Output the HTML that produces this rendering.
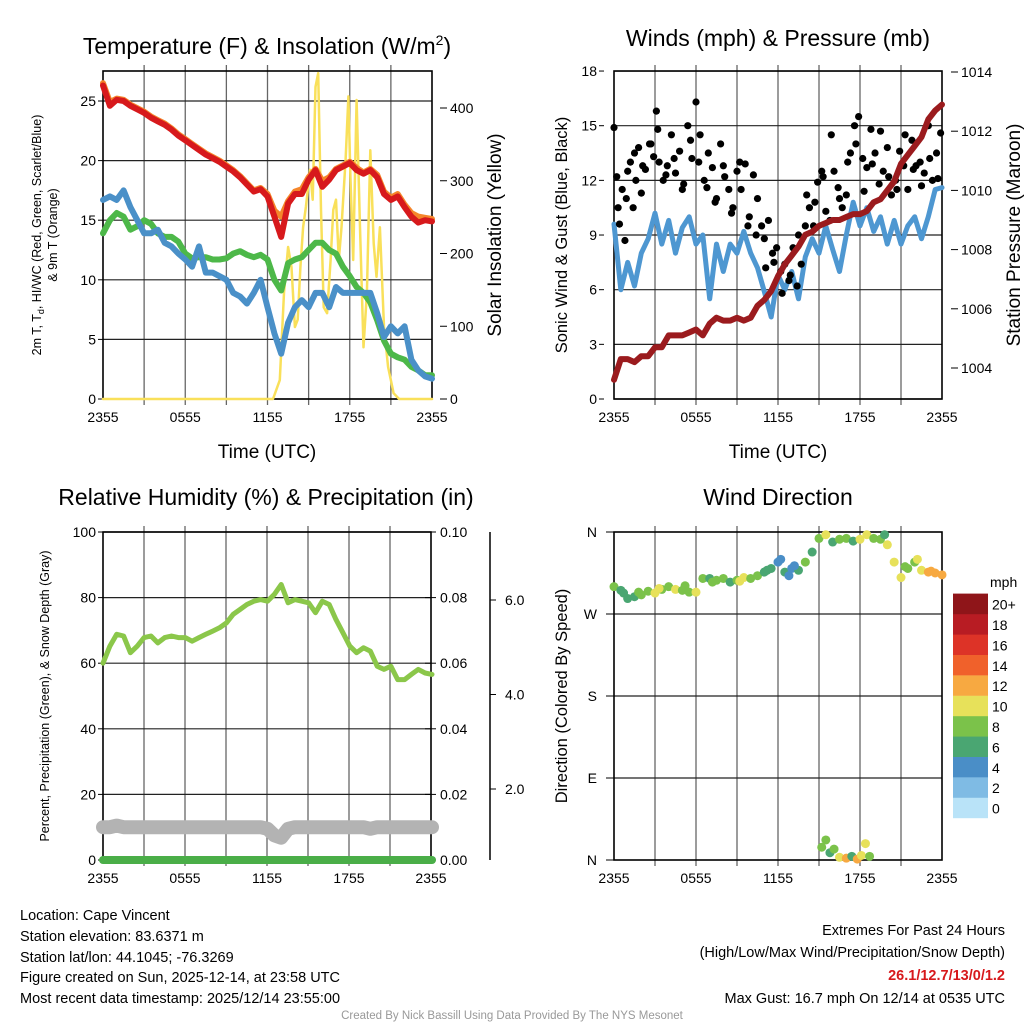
<!DOCTYPE html>
<html><head><meta charset="utf-8"><style>
body{margin:0;background:#fff;}
svg{display:block;font-family:"Liberation Sans",Arial,sans-serif;}
</style></head><body>
<svg id="s" width="1024" height="1024" viewBox="0 0 1024 1024" xmlns="http://www.w3.org/2000/svg">
<rect width="1024" height="1024" fill="#fff"/>
<g id="g"></g>
<!-- titles -->
<text x="267" y="54" font-size="23" text-anchor="middle">Temperature (F) &amp; Insolation (W/m<tspan dy="-9" font-size="14">2</tspan><tspan dy="9">)</tspan></text>
<text x="778" y="46" font-size="23" text-anchor="middle">Winds (mph) &amp; Pressure (mb)</text>
<text x="266" y="505" font-size="23" text-anchor="middle">Relative Humidity (%) &amp; Precipitation (in)</text>
<text x="778" y="505" font-size="23" text-anchor="middle">Wind Direction</text>
<text x="267" y="458" font-size="19" text-anchor="middle">Time (UTC)</text>
<text x="778" y="458" font-size="19" text-anchor="middle">Time (UTC)</text>
<text transform="translate(41,235) rotate(-90)" font-size="12.5" text-anchor="middle">2m T, T<tspan dy="3" font-size="9">d</tspan><tspan dy="-3">, HI/WC (Red, Green, Scarlet/Blue)</tspan></text>
<text transform="translate(57,235) rotate(-90)" font-size="12.5" text-anchor="middle">&amp; 9m T (Orange)</text>
<text transform="translate(501,235) rotate(-90)" font-size="19" text-anchor="middle">Solar Insolation (Yellow)</text>
<text transform="translate(567,235) rotate(-90)" font-size="16.5" text-anchor="middle">Sonic Wind &amp; Gust (Blue, Black)</text>
<text transform="translate(1020,235) rotate(-90)" font-size="19" text-anchor="middle">Station Pressure (Maroon)</text>
<text transform="translate(49,696) rotate(-90)" font-size="12.5" text-anchor="middle">Percent, Precipitation (Green), &amp; Snow Depth (Gray)</text>
<text transform="translate(567,696) rotate(-90)" font-size="16.5" text-anchor="middle">Direction (Colored By Speed)</text>
<!-- footer -->
<g font-size="14.5">
<text x="20" y="920">Location: Cape Vincent</text>
<text x="20" y="941">Station elevation: 83.6371 m</text>
<text x="20" y="962">Station lat/lon: 44.1045; -76.3269</text>
<text x="20" y="982">Figure created on Sun, 2025-12-14, at 23:58 UTC</text>
<text x="20" y="1003">Most recent data timestamp: 2025/12/14 23:55:00</text>
</g>
<g font-size="14.5" text-anchor="end">
<text x="1005" y="935">Extremes For Past 24 Hours</text>
<text x="1005" y="957">(High/Low/Max Wind/Precipitation/Snow Depth)</text>
<text x="1005" y="980" fill="#d7191c" font-weight="bold">26.1/12.7/13/0/1.2</text>
<text x="1005" y="1003">Max Gust: 16.7 mph On 12/14 at 0535 UTC</text>
</g>
<text x="512" y="1019" font-size="11.5" fill="#999" text-anchor="middle">Created By Nick Bassill Using Data Provided By The NYS Mesonet</text>
</svg>
<script>
// ---- data ----
const hours = [0,0.5,1,1.5,2,2.5,3,3.5,4,4.5,5,5.5,6,6.5,7,7.5,8,8.5,9,9.5,10,10.5,11,11.5,12,12.5,13,13.5,14,14.5,15,15.5,16,16.5,17,17.5,18,18.5,19,19.5,20,20.5,21,21.5,22,22.5,23,23.5,24];
const xTickLabels = ["2355","0555","1155","1755","2355"];
const tempRed = [26.3,24.6,25.1,25.0,24.6,24.3,24.0,23.6,23.3,23.0,22.6,22.1,21.7,21.3,20.9,20.5,20.2,19.9,19.5,19.1,18.6,18.0,17.4,17.6,17.0,15.3,13.6,16.4,17.2,17.2,18.4,19.2,17.8,18.4,19.2,19.5,19.8,19.2,18.9,19.2,18.6,17.2,16.7,17.0,16.1,15.3,14.8,15.0,14.9];
const tempOrange = [26.5,24.9,25.2,25.1,24.7,24.4,24.1,23.7,23.4,23.1,22.7,22.2,21.8,21.4,21.0,20.6,20.3,20.0,19.6,19.2,18.7,18.1,17.5,17.7,17.2,15.8,15.3,16.6,17.4,17.6,18.6,19.3,18.3,18.6,19.3,19.6,19.9,19.4,19.0,19.3,18.8,17.4,16.9,17.2,16.3,15.6,15.3,15.2,15.1];
const dewGreen = [13.9,15.0,15.6,15.3,14.2,14.5,15.0,14.7,13.9,13.6,13.6,13.2,12.2,11.8,11.9,11.9,11.7,11.7,11.8,12.2,12.4,12.1,11.9,12.1,11.7,10.0,9.1,11.4,11.7,11.9,12.5,13.1,13.1,12.5,12.2,11.1,10.3,9.4,8.9,8.1,6.6,4.9,3.8,3.5,3.3,2.7,2.4,2.0,2.0];
const chillBlue = [16.7,17.0,16.7,17.5,16.1,15.0,13.9,13.9,14.2,13.1,12.8,12.2,11.7,11.1,12.8,10.6,10.6,10.3,10.0,8.9,8.6,8.0,8.9,10.0,7.7,5.5,3.8,6.4,7.7,8.3,7.7,8.9,8.9,7.7,9.4,8.9,8.9,8.9,8.9,8.9,7.2,5.2,6.1,5.5,6.1,3.3,2.4,1.9,1.7];
const solarHours = [0,12.4,12.9,13.2,13.5,13.75,14.0,14.2,14.4,14.6,14.8,15.1,15.3,15.5,15.7,15.9,16.1,16.35,16.6,16.8,17.0,17.2,17.4,17.7,17.9,18.05,18.25,18.5,18.75,19.0,19.25,19.5,19.75,19.95,20.2,20.5,20.8,21.2,21.6,24];
const solarVals = [0,0,26,146,209,181,99,109,181,236,264,315,274,429,448,260,126,118,191,260,274,191,236,329,416,306,191,411,236,71,146,342,214,168,236,99,44,8,0,0];
const tempTicks = [0,5,10,15,20,25];
const solarTicks = [0,100,200,300,400];

const sonicWind = [9.6,6.0,7.5,6.2,8.0,8.8,10.2,8.5,9.8,8.0,9.4,10.0,8.5,9.0,5.5,8.5,7.0,8.5,8.0,9.2,8.0,7.2,5.9,4.5,6.8,6.0,7.0,5.5,7.8,8.8,8.0,9.5,8.2,7.0,9.0,10.8,9.5,10.5,9.2,10.0,8.5,9.8,8.5,9.5,10.0,8.8,10.0,11.5,11.6];
const gustHours = [0,0.2,0.4,0.6,0.8,1,1.2,1.4,1.6,1.8,2,2.3,2.6,2.9,3.1,3.3,3.6,3.9,4.2,4.5,4.8,5.1,5.4,5.7,6,6.3,6.6,6.9,7.2,7.5,7.8,8.1,8.4,8.7,9,9.3,9.6,9.9,10.2,10.5,10.8,11,11.3,11.6,11.9,12.2,12.5,12.8,13.1,13.4,13.7,14,14.3,14.6,14.9,15.2,15.5,15.8,16.1,16.4,16.7,17,17.3,17.6,17.9,18.2,18.5,18.8,19.1,19.4,19.7,20,20.3,20.6,20.9,21.2,21.5,21.8,22.1,22.4,22.7,23,23.3,23.6,23.9];
const gustVals = [14.9,12.2,9.6,11.5,8.7,12.5,13.0,10.5,12.0,13.8,11.3,12.6,14.0,13.3,15.8,13.0,12.0,12.8,14.5,12.4,13.6,11.8,15.0,13.2,16.3,14.5,12.0,13.5,12.7,11.0,14.0,12.2,11.5,10.5,12.5,11.5,12.9,10.0,12.3,11.0,9.5,8.8,9.8,8.0,8.3,7.0,7.4,6.5,8.3,6.2,7.4,9.5,10.5,9.5,11.9,12.5,10.3,9.8,12.5,11.6,10.5,11.2,13.5,15.0,15.5,13.2,12.7,14.8,13.5,11.8,12.5,13.8,11.2,12.0,13.6,12.8,11.5,14.2,12.8,13.0,12.4,15.0,12.0,13.5,14.6];
const gustHours2 = [0.3,0.9,1.5,2.1,2.7,3.2,3.8,4.4,5.0,5.6,6.2,6.8,7.4,8.0,8.6,9.2,9.8,10.4,11.1,11.7,12.3,12.9,13.5,14.1,14.7,15.3,15.9,16.5,17.1,17.7,18.3,18.9,19.5,20.1,20.7,21.3,21.9,22.5,23.1,23.7];
const gustVals2 = [10.5,11.0,13.5,12.8,14.0,14.8,12.3,13.2,11.5,14.2,13.0,11.6,10.8,12.8,10.2,13.0,9.5,9.0,7.2,7.5,5.8,6.8,9.0,11.2,10.8,12.2,14.5,11.0,13.0,14.0,11.4,12.9,14.7,12.2,11.5,14.5,12.6,11.7,13.2,12.1];
const pressure = [1003.6,1004.3,1004.3,1004.2,1004.4,1004.4,1004.7,1004.7,1005.1,1005.1,1005.1,1005.2,1005.3,1005.1,1005.5,1005.7,1005.6,1005.6,1005.7,1005.6,1005.7,1006.1,1006.3,1006.6,1007.1,1007.5,1007.8,1008.1,1008.5,1008.6,1008.8,1008.9,1009.0,1009.0,1009.1,1009.2,1009.2,1009.3,1009.6,1009.7,1010.0,1010.3,1010.9,1011.2,1011.5,1011.8,1012.4,1012.7,1012.9];
const windTicks = [0,3,6,9,12,15,18];
const pressTicks = [1004,1006,1008,1010,1012,1014];

const rh = [60,65.2,68.8,68.3,63.2,65.2,67.8,68.3,66.2,67.8,68.3,67.8,67.8,66.7,67.8,68.8,69.8,70.8,72.3,74.9,76.4,77.9,78.9,79.4,78.9,81,84,78.4,79.4,78.9,78.4,75.4,78.9,77.9,73.3,69.3,65.2,63.2,64.7,63.7,59.1,58.1,59.1,55,55,56.6,58.1,57,56.6];
const snowDepth = [10,10,10.5,10,10,10,10,10,10,10,10,10,10,10,10,10,10,10,10,10,10,10,10,10,9.5,7.5,6.8,9.5,10,10,10,10,10,10,10,10,10,10,10,9.5,10,10,10,10,10,10,10,10,10];
const precip = [0,0,0,0,0,0,0,0,0,0,0,0,0,0,0,0,0,0,0,0,0,0,0,0,0,0,0,0,0,0,0,0,0,0,0,0,0,0,0,0,0,0,0,0,0,0,0,0,0];
const rhTicks = [0,20,40,60,80,100];
const precipTicks = ["0.00","0.02","0.04","0.06","0.08","0.10"];
const snowTickLabels = ["2.0","4.0","6.0"];

const dirVals = [300,296,287,289,291,295,293,297,300,297,296,294,294,309,309,307,309,305,307,310,309,312,316,320,327,316,320,318,327,338,353,357,349,352,353,350,352,357,353,352,346,327,310,320,327,318,316,315,313];
const dirSpeeds = [9,7,6,7,8,9,10,8,9,10,9,8,10,8,7,9,8,7,8,10,8,8,7,6,5,6,5,6,8,6,8,10,7,9,8,7,10,11,9,8,10,10,11,8,9,10,12,13,12];
const dirHours2 = [15.2,15.5,15.8,16.1,16.5,17.0,17.4,17.8,18.1,18.4,18.7,0.7,1.8,3.3,5.2,7.2,9.2,11.2,12.2,12.8,13.2,19.8,21.3,22.2,23.2];
const dirVals2 = [14,22,8,12,3,2,4,1,5,18,4,293,294,298,301,305,306,318,330,312,323,357,322,330,317];
const dirSpeeds2 = [8,8,7,9,10,12,6,13,10,11,8,6,8,10,9,8,10,6,4,5,4,7,8,10,13];
const dirTickLabels = ["N","E","S","W","N"];
const speedBinLabels = ["0","2","4","6","8","10","12","14","16","18","20+"];
const speedBinColors = ["#b9e3f8","#7fbbe4","#4a8ec7","#4aa672","#7bc24a","#e7e15a","#f7a941","#f0612b","#dd3327","#b81c23","#8f1519"];

// ---- scales ----
const NS="http://www.w3.org/2000/svg";
const G=document.getElementById('g');
function el(t,a,p){const e=document.createElementNS(NS,t);for(const k in a)e.setAttribute(k,a[k]);(p||G).appendChild(e);return e;}
const xL=h=>103+h*329/24, xR=h=>614+h*328/24;
const yT=v=>399-v*11.92, yS=v=>399-v*0.7275;
const yW=v=>399-v*18.22, yP=p=>72+(1014-p)*29.6;
const yRH=v=>860-v*3.28, yPr=v=>860-v*3280, yD=d=>860-d*0.9111;

function frame(x0,x1,y0,y1,hy,name){
  const g=el('g',{});
  
  
  for(let i=1;i<8;i++){const x=x0+(x1-x0)*i/8;el('line',{x1:x,x2:x,y1:y0-6,y2:y1+6,stroke:'#666','stroke-width':1.3},g);}
  hy.forEach(y=>el('line',{x1:x0,x2:x1,y1:y,y2:y,stroke:'#222','stroke-width':1.2},g));
  el('rect',{x:x0,y:y0,width:x1-x0,height:y1-y0,fill:'none',stroke:'#000','stroke-width':1.6},g);
  xTickLabels.forEach((t,i)=>{const x=x0+(x1-x0)*i/4;
    const tx=el('text',{x:x,y:y1+23,'font-size':14,'text-anchor':'middle'},g);tx.textContent=t;
    
    });
}
function pline(xs,ys,col,w,name){
  const d=xs.map((x,i)=>(i?'L':'M')+x.toFixed(1)+' '+ys[i].toFixed(1)).join(' ');
  const p=el('path',{d:d,fill:'none',stroke:col,'stroke-width':w,'stroke-linejoin':'round','stroke-linecap':'round'});
  
  
}
function ylabels(vals,f,x,anchor,name){
  vals.forEach(v=>{const t=el('text',{x:x,y:f(v)+5,'font-size':14,'text-anchor':anchor});t.textContent=v;
    
    
    el('line',{x1:anchor==='end'?x+2:x-10,x2:anchor==='end'?x+7:x-3,y1:f(v),y2:f(v),stroke:'#000'});});
}

// Panel 1
frame(103,432,71,399,tempTicks.map(yT),'temperature');
ylabels(tempTicks,yT,96,'end','temperature-y-tick-label');
ylabels(solarTicks,yS,450,'start','solar-y-tick-label');
pline(solarHours.map(xL),solarVals.map(yS),'#f9e05a',2.5,'solar-insolation-line');
pline(hours.map(xL),dewGreen.map(yT),'#4db849',6,'dewpoint-line');
pline(hours.map(xL),chillBlue.map(yT),'#4a90c8',6,'wind-chill-line');
pline(hours.map(xL),tempOrange.map(yT),'#f5862b',6,'temperature-9m-line');
pline(hours.map(xL),tempRed.map(yT),'#d7191c',6,'temperature-2m-line');

// Panel 2
frame(614,942,71,399,windTicks.map(yW),'winds');
ylabels(windTicks,yW,597,'end','wind-y-tick-label');
ylabels(pressTicks,yP,961,'start','pressure-y-tick-label');
pline(hours.map(xR),sonicWind.map(yW),'#4e97d1',5,'sonic-wind-line');
gustHours.forEach((h,i)=>{const c=el('circle',{cx:xR(h),cy:yW(gustVals[i]),r:3.6,fill:'#000'});
  
  });
gustHours2.forEach((h,i)=>{const c=el('circle',{cx:xR(h),cy:yW(gustVals2[i]),r:3.6,fill:'#000'});
  
  });
pline(hours.map(xR),pressure.map(yP),'#9b1b1e',6,'pressure-line');

// Panel 3
frame(103,431,532,860,rhTicks.map(yRH),'humidity');
ylabels(rhTicks,yRH,96,'end','humidity-y-tick-label');
precipTicks.forEach(v=>{const y=yPr(parseFloat(v));const t=el('text',{x:440,y:y+5,'font-size':14});t.textContent=v;
  
  
  el('line',{x1:425,x2:436,y1:y,y2:y,stroke:'#000'});});
el('line',{x1:490,x2:490,y1:532,y2:860,stroke:'#000','stroke-width':1.5});
snowTickLabels.forEach((v,i)=>{const y=789-(parseFloat(v)/2-1)*94.5;const t=el('text',{x:505,y:y+5,'font-size':14});t.textContent=v;
  
  
  el('line',{x1:490,x2:496,y1:y,y2:y,stroke:'#000'});});
pline(hours.map(xL),snowDepth.map(yRH),'#b3b3b3',14,'snow-depth-line');
pline(hours.map(xL),precip.map(yPr),'#4aae48',8,'precipitation-line');
pline(hours.map(xL),rh.map(yRH),'#8bc74a',5,'humidity-line');

// Panel 4
frame(614,942,532,860,[90,180,270].map(yD),'direction');
dirTickLabels.forEach((t,i)=>{const y=yD(i*90);const e=el('text',{x:597,y:y+5,'font-size':14,'text-anchor':'end'});e.textContent=t;
  
  
  el('line',{x1:606,x2:614,y1:y,y2:y,stroke:'#000'});});
const sc=s=>speedBinColors[Math.min(10,Math.floor(s/2))];
hours.forEach((h,i)=>{const c=el('circle',{cx:xR(h),cy:yD(dirVals[i]),r:4.5,fill:sc(dirSpeeds[i])});
  
  });
dirHours2.forEach((h,i)=>{const c=el('circle',{cx:xR(h),cy:yD(dirVals2[i]),r:4.5,fill:sc(dirSpeeds2[i])});
  
  });
// colorbar
const cbt=el('text',{x:990,y:587,'font-size':14});cbt.textContent='mph';


speedBinLabels.forEach((l,i)=>{const y=818-(i+1)*20.4;
  const r=el('rect',{x:953,y:y,width:35,height:20.6,fill:speedBinColors[i]});
  
  
  const t=el('text',{x:992,y:y+16,'font-size':14});t.textContent=l;
  
  });
</script>
</body></html>
